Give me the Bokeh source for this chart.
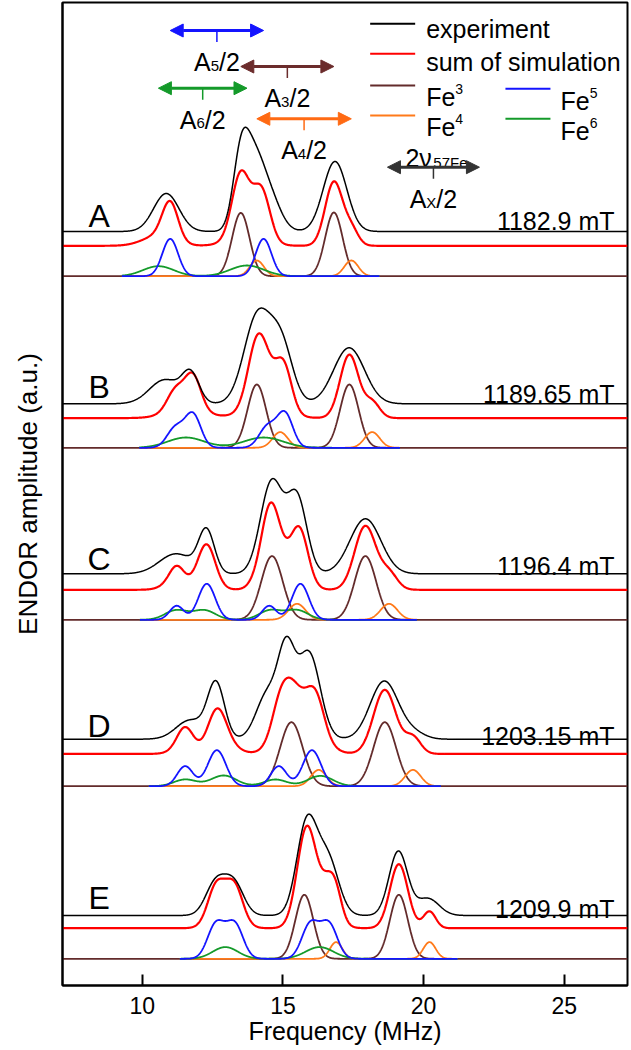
import numpy as np
from bokeh.plotting import figure
from bokeh.models import Range1d, FixedTicker, Arrow, NormalHead
from bokeh.core.properties import value
from bokeh.embed import file_html
from bokeh.resources import INLINE

# ---------------- data ----------------
FREQ_MIN, FREQ_MAX = 7.16, 27.25
x_ticks = [10, 15, 20, 25]
panel_letters = ["A", "B", "C", "D", "E"]
field_labels = ["1182.9 mT", "1189.65 mT", "1196.4 mT", "1203.15 mT", "1209.9 mT"]

# Gaussian line components per panel: centre (MHz), height (a.u.), sigma (MHz)
fe3_centers = [[13.50, 16.81], [14.07, 17.36], [14.61, 17.93], [15.30, 18.62], [15.76, 19.12]]
fe3_heights = [[63.3, 63.7], [63.3, 63.3], [63.7, 63.7], [64.0, 64.0], [64.0, 64.0]]
fe3_widths = [[0.31, 0.31], [0.33, 0.33], [0.38, 0.38], [0.40, 0.40], [0.32, 0.32]]

fe4_centers = [[14.07, 17.43], [14.90, 18.17], [15.50, 18.77], [16.27, 19.62], [16.89, 20.21]]
fe4_heights = [[15.7, 15.7], [15.7, 15.7], [16.0, 16.0], [16.3, 16.3], [16.7, 16.7]]
fe4_widths = [[0.25, 0.25], [0.27, 0.27], [0.30, 0.30], [0.28, 0.28], [0.22, 0.22]]

fe5_centers = [[10.99, 14.31], [11.18, 11.80, 14.45, 15.07], [11.22, 12.29, 14.51, 15.62],
               [11.52, 12.65, 14.85, 16.03], [12.62, 13.28, 15.97, 16.63]]
fe5_heights = [[37.3, 37.3], [20, 33, 21, 34], [14, 36, 14, 36], [20, 36, 20, 36], [34.6, 34.6, 34.6, 34.6]]
fe5_widths = [[0.28, 0.28], [0.30, 0.28, 0.30, 0.28], [0.25, 0.30, 0.25, 0.30],
              [0.28, 0.32, 0.28, 0.32], [0.30, 0.30, 0.30, 0.30]]

fe6_centers = [[10.57, 13.72], [11.55, 14.31], [11.2, 12.2, 14.55, 15.5],
               [11.52, 12.89, 14.73, 16.33], [12.95, 16.30]]
fe6_heights = [[10.0, 10.7], [10.3, 10.3], [9.5, 9.5, 9.5, 9.5], [6.7, 10.7, 6.7, 10.3], [11.7, 11.7]]
fe6_widths = [[0.55, 0.60], [0.65, 0.70], [0.40, 0.40, 0.40, 0.40], [0.40, 0.45, 0.40, 0.45], [0.45, 0.50]]

exp_centers = [[10.85, 13.5, 13.95, 14.5, 16.85], [10.8, 11.72, 14.1, 14.95, 17.35],
               [11.2, 12.28, 14.6, 15.5, 17.93], [11.7, 12.62, 14.45, 15.12, 15.92, 18.6, 19.65],
               [12.6, 13.25, 15.85, 16.6, 19.1, 20.15]]
exp_heights = [[38, 68, 60, 35, 70], [24, 28, 88, 55, 56], [20, 42, 92, 75, 55],
               [19, 55, 45, 80, 86, 58, 6], [32, 32, 92, 55, 64, 17]]
exp_widths = [[0.45, 0.28, 0.35, 0.40, 0.42], [0.55, 0.30, 0.48, 0.40, 0.55],
              [0.60, 0.28, 0.40, 0.35, 0.55], [0.50, 0.30, 0.40, 0.30, 0.40, 0.50, 0.40],
              [0.35, 0.35, 0.36, 0.38, 0.33, 0.40]]

nu_57Fe = 1.635  # MHz (arrow length = 2 nu)

# ---------------- layout ----------------
panel_base = [709.3, 537.7, 365.7, 199.3, 26.7]
red_offset = [30.4, 29.7, 30.0, 32.3, 30.6]
exp_offset = [44.7, 44.0, 46.0, 47.0, 43.3]
field_dy = [55.7, 54.3, 54.3, 50.7, 50.0]

FONT = "Liberation Sans"
C_EXP = "#000000"
C_SUM = "#ff0000"
C_FE3 = "#632b2b"
C_FE4 = "#ff7a1a"
C_FE5 = "#1414ff"
C_FE6 = "#149a2a"

CW = {"A": 667, "/": 278, "2": 556, "3": 556, "4": 556, "5": 556, "6": 556, "7": 556,
      "X": 667, "F": 611, "e": 556, "\u03bd": 560, " ": 278}


def adv(t, size):
    return sum(CW.get(ch, 556) for ch in t) * size / 1000.0


def gsum(xx, c, h, s):
    y = np.zeros_like(xx)
    for ci, hi, si in zip(c, h, s):
        y += hi * np.exp(-0.5 * ((xx - ci) / si) ** 2)
    return y


p = figure(width=631, height=1050, x_range=Range1d(FREQ_MIN, FREQ_MAX), y_range=Range1d(0, 983),
           output_backend="svg", toolbar_location=None,
           min_border_left=62, min_border_right=4, min_border_top=2, min_border_bottom=65)

p.grid.visible = False
p.outline_line_color = "black"
p.outline_line_width = 2
p.background_fill_color = "white"

p.xaxis.ticker = FixedTicker(ticks=x_ticks)
p.xaxis.minor_tick_line_color = None
p.xaxis.major_tick_in = 11
p.xaxis.major_tick_out = 0
p.xaxis.major_tick_line_width = 2
p.xaxis.axis_line_width = 2
p.xaxis.major_label_text_font = FONT
p.xaxis.major_label_text_font_size = "23px"
p.xaxis.major_label_text_color = "black"
p.xaxis.major_label_standoff = 11
p.xaxis.axis_label = "Frequency (MHz)"
p.xaxis.axis_label_text_font = FONT
p.xaxis.axis_label_text_font_size = "25px"
p.xaxis.axis_label_text_font_style = "normal"
p.xaxis.axis_label_text_color = "black"
p.xaxis.axis_label_standoff = 0

p.yaxis.ticker = FixedTicker(ticks=[])
p.yaxis.minor_tick_line_color = None
p.yaxis.major_tick_out = 0
p.yaxis.major_tick_in = 0
p.yaxis.axis_line_width = 2
p.yaxis.axis_label = "ENDOR amplitude (a.u.)"
p.yaxis.axis_label_text_font = FONT
p.yaxis.axis_label_text_font_size = "26px"
p.yaxis.axis_label_text_font_style = "normal"
p.yaxis.axis_label_text_color = "black"
p.yaxis.axis_label_standoff = 20

x = np.linspace(FREQ_MIN, FREQ_MAX, 1600)

for i in range(5):
    base = panel_base[i]
    sub_c = fe4_centers[i] + fe5_centers[i] + fe6_centers[i]
    lo, hi = min(sub_c) - 1.3, max(sub_c) + 1.0
    xs = x[(x >= lo) & (x <= hi)]

    y3 = gsum(x, fe3_centers[i], fe3_heights[i], fe3_widths[i])
    y4 = gsum(x, fe4_centers[i], fe4_heights[i], fe4_widths[i])
    y5 = gsum(x, fe5_centers[i], fe5_heights[i], fe5_widths[i])
    y6 = gsum(x, fe6_centers[i], fe6_heights[i], fe6_widths[i])
    total = y3 + y4 + y5 + y6
    yexp = gsum(x, exp_centers[i], exp_heights[i], exp_widths[i])

    p.line(x, base + y3, line_color=C_FE3, line_width=1.8)
    p.line(xs, base + gsum(xs, fe4_centers[i], fe4_heights[i], fe4_widths[i]), line_color=C_FE4, line_width=1.8)
    p.line(xs, base + gsum(xs, fe6_centers[i], fe6_heights[i], fe6_widths[i]), line_color=C_FE6, line_width=1.8)
    p.line(xs, base + gsum(xs, fe5_centers[i], fe5_heights[i], fe5_widths[i]), line_color=C_FE5, line_width=1.8)
    p.line(x, base + red_offset[i] + total, line_color=C_SUM, line_width=2.2)
    p.line(x, base + exp_offset[i] + yexp, line_color=C_EXP, line_width=1.5)

    p.text(x=[8.46], y=[base + 60.5], text=[panel_letters[i]], text_font=value(FONT),
           text_font_size="32px", text_align="center", text_baseline="alphabetic", text_color="black")
    p.text(x=[26.79], y=[base + field_dy[i]], text=[field_labels[i]], text_font=value(FONT),
           text_font_size="25px", text_align="right", text_baseline="alphabetic", text_color="black")


def rich(xc, y, pieces, start, color="black"):
    off = start
    for t, size, dy in pieces:
        p.text(x=[xc], y=[y], text=[t], x_offset=off, y_offset=dy, text_font=value(FONT),
               text_font_size=f"{size}px", text_align="left", text_baseline="alphabetic",
               text_color=color)
        off += adv(t, size)


def width_of(pieces):
    return sum(adv(t, s) for t, s, _ in pieces)


# hyperfine arrows (from panel A line pairs)
arrow_specs = [
    (fe5_centers[0][0], fe5_centers[0][1], 955.0, "#1414ff", "5"),
    (fe3_centers[0][0], fe3_centers[0][1], 919.0, "#6b2c2c", "3"),
    (fe6_centers[0][0], fe6_centers[0][1], 897.3, "#149a2a", "6"),
    (fe4_centers[0][0], fe4_centers[0][1], 866.7, "#ff6a13", "4"),
]
gray_c = 20.35
arrow_specs.append((gray_c - nu_57Fe, gray_c + nu_57Fe, 818.3, "#333333", "X"))

for x0, x1, ya, col, sub in arrow_specs:
    p.add_layout(Arrow(x_start=x0, y_start=ya, x_end=x1, y_end=ya, line_color=col, line_width=3,
                       start=NormalHead(size=13, fill_color=col, line_color=col, line_width=1),
                       end=NormalHead(size=13, fill_color=col, line_color=col, line_width=1)))
    xm = 0.5 * (x0 + x1)
    p.segment(x0=[xm], y0=[ya], x1=[xm], y1=[ya - 11.5], line_color=col, line_width=1.5)
    pieces = [("A", 25, 0), (sub, 15, 3.5), ("/2", 25, 0)]
    rich(xm, ya - 31.5, pieces, -width_of(pieces) / 2)

# 2 nu label above gray arrow
rich(gray_c, 818.3 + 9.5, [("2\u03bd", 25, 0), ("57Fe", 15, 5)], -28)

# legend
leg_rows = [
    (18.10, 19.70, 961.7, 20.09, 956.7, C_EXP, "experiment", None),
    (18.10, 19.70, 931.7, 20.09, 923.3, C_SUM, "sum of simulation", None),
    (18.10, 19.70, 900.0, 20.09, 888.3, C_FE3, "Fe", "3"),
    (18.10, 19.70, 870.0, 20.09, 858.3, C_FE4, "Fe", "4"),
    (22.91, 24.51, 896.7, 24.87, 885.0, C_FE5, "Fe", "5"),
    (22.91, 24.51, 866.7, 24.87, 855.0, C_FE6, "Fe", "6"),
]
for lx0, lx1, ly, tx, ty, col, label, sup in leg_rows:
    p.segment(x0=[lx0], y0=[ly], x1=[lx1], y1=[ly], line_color=col, line_width=2)
    if sup is None:
        p.text(x=[tx], y=[ty], text=[label], text_font=value(FONT), text_font_size="25px",
               text_align="left", text_baseline="alphabetic", text_color="black")
    else:
        rich(tx, ty, [(label, 25, 0), (sup, 14, -8)], 0)

open("out.html", "w").write(file_html(p, INLINE))
